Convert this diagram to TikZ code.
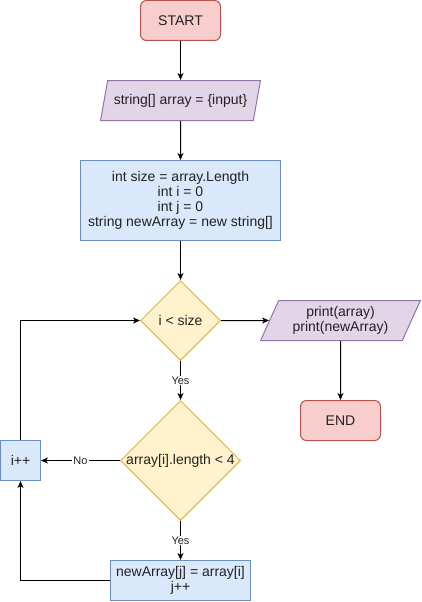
\documentclass[tikz,border=0pt]{standalone}
\usepackage{fontspec}
\setmainfont{Liberation Sans}
\usetikzlibrary{positioning,shapes.geometric,arrows.meta}
\definecolor{termfill}{HTML}{F8CECC}
\definecolor{termline}{HTML}{B85450}
\definecolor{iofill}{HTML}{E1D5E7}
\definecolor{ioline}{HTML}{9673A6}
\definecolor{procfill}{HTML}{DAE8FC}
\definecolor{procline}{HTML}{6C8EBF}
\definecolor{condfill}{HTML}{FFF2CC}
\definecolor{condline}{HTML}{D6B656}
\definecolor{txt}{HTML}{222222}

\begin{document}
\begin{tikzpicture}[x=1pt,y=-1pt,
  every node/.style={font=\fontsize{14}{15}\selectfont, align=center, text=txt},
  term/.style={draw=termline, fill=termfill, line width=1pt, rounded corners=6pt,
    minimum width=80pt, minimum height=40pt},
  io/.style={draw=ioline, fill=iofill, line width=1pt, trapezium, trapezium stretches=true,
    trapezium left angle=63.4, trapezium right angle=116.6, inner sep=0pt,
    minimum width=160pt, minimum height=40pt},
  proc/.style={draw=procline, fill=procfill, line width=1pt, minimum height=40pt},
  cond/.style={draw=condline, fill=condfill, line width=1pt, diamond, aspect=1, inner sep=-2pt},
  flow/.style={-{Stealth[length=7pt,width=6pt,inset=2pt]}, line width=1pt},
  lbl/.style={fill=white, inner sep=1pt, font=\fontsize{11}{13}\selectfont}]

  \useasboundingbox (-0.5,-0.5) rectangle (420.5,601.5);

  \node[term] (start) at (180,20) {START};
  \node[io] (input) at (180,100) {string[] array = \{input\}};
  \node[proc, minimum width=200pt, minimum height=80pt] (init) at (180,200)
    {int size = array.Length\\int i = 0\\int j = 0\\string newArray = new string[]};

  \node[cond, minimum size=80pt] (loop) at (180,320) {i < size};
  \node[io] (output) at (340,320) {print(array)\\print(newArray)};
  \node[term] (end) at (340,420) {END};

  \node[cond, minimum size=120pt] (check) at (180,460) {array[i].length < 4};
  \node[proc, minimum width=40pt] (incr) at (20,460) {i++};
  \node[proc, minimum width=140pt] (copy) at (180,580) {newArray[j] = array[i]\\j++};

  \draw [flow] (start) -- (input);
  \draw [flow] (input) -- (init);
  \draw [flow] (init) -- (loop);
  \draw [flow] (loop) -- (output);
  \draw [flow] (output) -- (end);
  \draw [flow] (loop) -- node[lbl] {Yes} (check);
  \draw [flow] (check) -- node[lbl] {No} (incr);
  \draw [flow] (check) -- node[lbl] {Yes} (copy);
  \draw [flow] (copy.west) -| (incr.south);
  \draw [flow] (incr.north) |- (loop.west);

\end{tikzpicture}
\end{document}
